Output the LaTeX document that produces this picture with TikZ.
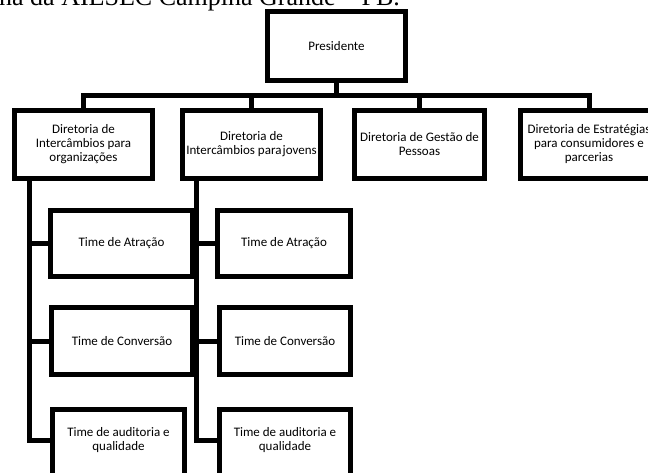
\documentclass[tikz,border=0pt]{standalone}
\usepackage{fontspec}
\newfontfamily\calfont{Carlito}
\newfontfamily\headfont{Liberation Serif}
\begin{document}
\begin{tikzpicture}[x=1pt,y=-1pt,
  boxfont/.style={font=\calfont\fontsize{13}{14}\selectfont},
  box/.style={draw=black, fill=white, line width=5pt, inner sep=0pt, align=center, boxfont},
  conn/.style={draw=black, line width=5pt}]
\useasboundingbox (0,0) rectangle (648,472);
\clip (0,0) rectangle (648,472);
\node[anchor=base west, inner sep=0pt, font=\headfont\fontsize{26}{26}\selectfont] (head) at (-1,5.5) {na da AIESEC Campina Grande – PB.};
% top
\node[box, minimum width=138pt, minimum height=69pt] (pres) at (336.5,46) {Presidente};
% level 2
\node[box, minimum width=138pt, minimum height=68pt] (d1) at (83.5,144.5) {Diretoria de\\Intercâmbios para\\organizações};
\node[box, minimum width=138pt, minimum height=68pt] (d2) at (251.5,144.5) {Diretoria de\\Intercâmbios para\hspace{1.2pt}jovens};
\node[box, minimum width=130pt, minimum height=68pt] (d3) at (419.5,144.5) {Diretoria de Gestão de\\Pessoas};
\node[box, minimum width=138pt, minimum height=68pt] (d4) at (589,144.5) {Diretoria de Estratégias\\para consumidores e\\parcerias};
% teams column 1
\node[box, minimum width=142pt, minimum height=66pt] (a1) at (121.5,243.5) {Time de Atração};
\node[box, minimum width=141pt, minimum height=67pt] (c1) at (122,341) {Time de Conversão};
\node[box, minimum width=132pt, minimum height=70pt,
  label={[boxfont, align=center, inner sep=0pt, yshift=4.5pt]center:Time de auditoria e\\qualidade}] (q1) at (118.5,444.5) {};
% teams column 2
\node[box, minimum width=133pt, minimum height=66pt] (a2) at (284,243.5) {Time de Atração};
\node[box, minimum width=131pt, minimum height=67pt] (c2) at (285,341) {Time de Conversão};
\node[box, minimum width=131pt, minimum height=70pt,
  label={[boxfont, align=center, inner sep=0pt, yshift=4.5pt]center:Time de auditoria e\\qualidade}] (q2) at (285,444.5) {};
% connectors
\coordinate (bar) at (0,95);
\coordinate (v1) at (29,0);
\coordinate (v2) at (196.5,0);
\draw[conn] (pres.south) -- (pres.south |- bar);
\draw[conn] (d1.north) -- (d1.north |- bar) -- (d4.north |- bar) -- (d4.north);
\draw[conn] (d2.north) -- (d2.north |- bar);
\draw[conn] (d3.north) -- (d3.north |- bar);
\draw[conn] (d1.south -| v1) |- (a1.west);
\draw[conn] (d1.south -| v1) |- (c1.west);
\draw[conn] (d1.south -| v1) |- ([yshift=4.5pt]q1.west);
\draw[conn] (d2.south -| v2) |- (a2.west);
\draw[conn] (d2.south -| v2) |- (c2.west);
\draw[conn] (d2.south -| v2) |- ([yshift=4.5pt]q2.west);
\end{tikzpicture}
\end{document}
